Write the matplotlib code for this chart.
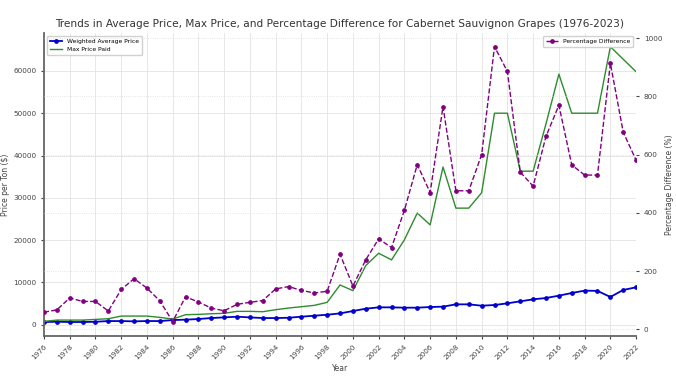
import numpy as np
import matplotlib.pyplot as plt

years = np.arange(1976, 2023)

avg_price = [640, 710, 640, 640, 700, 870, 870, 800, 870, 870,
             1100, 1200, 1350, 1580, 1740, 1900, 1740, 1580, 1580, 1650,
             1900, 2130, 2370, 2680, 3240, 3790, 4110, 4110, 4030, 4030,
             4190, 4270, 4820, 4820, 4500, 4660, 5060, 5530, 6000, 6320,
             6870, 7500, 8060, 8000, 6560, 8220, 8850]

max_price = [790, 1100, 1100, 1100, 1260, 1420, 2050, 2050, 2050, 1740,
             1340, 2370, 2450, 2600, 2700, 3160, 3160, 3080, 3550, 3950,
             4260, 4580, 5290, 9400, 8060, 13980, 16900, 15330, 20070, 26400,
             23600, 37280, 27560, 27560, 31200, 50000, 50000, 36300, 36300, 47500,
             59240, 50000, 50000, 50000, 65710, 62750, 59790]

pct_diff = [59, 67, 108, 96, 96, 63, 137, 174, 142, 98,
            27, 112, 94, 73, 64, 86, 93, 99, 139, 147,
            134, 125, 131, 258, 149, 239, 311, 281, 409, 566,
            470, 765, 476, 476, 600, 971, 886, 540, 492, 663,
            770, 565, 530, 530, 914, 677, 581]

text_col = '#444444'

fig = plt.figure(figsize=(6.76, 3.79), dpi=100)
ax = fig.add_axes([0.065, 0.114, 0.876, 0.799])
ax2 = ax.twinx()

ax.plot(years, avg_price, color='#0000cc', marker='o', markersize=2.4,
        linewidth=1.3, label='Weighted Average Price')
ax.plot(years, max_price, color='#2e8b2e', linewidth=1.0, label='Max Price Paid')
ax2.plot(years, pct_diff, color='purple', linestyle='--', marker='o',
         markersize=2.4, linewidth=1.0, label='Percentage Difference')

ax.set_xlim(1976, 2022)
ax.set_xticks(np.arange(1976, 2023, 2))
ax.set_yticks(np.arange(0, 60001, 10000))
ax2.set_yticks(np.arange(0, 1001, 200))
ax2.set_ylim(-22, 1018)

ax.grid(True, color='#e3e3e3', linewidth=0.6)
ax2.grid(True, axis='y', color='#dddddd', linewidth=0.6, linestyle=':')
ax.set_axisbelow(True)

for s in ['top', 'right']:
    ax.spines[s].set_visible(False)
for s in ['left', 'bottom']:
    ax.spines[s].set_color('#666666')
    ax.spines[s].set_linewidth(1.3)
for s in ax2.spines.values():
    s.set_visible(False)

ax.tick_params(axis='x', labelsize=5.2, colors=text_col, length=2, rotation=45)
ax.tick_params(axis='y', labelsize=5.2, colors=text_col, length=2)
ax2.tick_params(axis='y', labelsize=5.2, colors=text_col, length=2)
for lbl in ax.get_xticklabels():
    lbl.set_ha('right')
    lbl.set_rotation_mode('anchor')

ax.set_xlabel('Year', fontsize=5.5, color=text_col, labelpad=2)
ax.set_ylabel('Price per Ton ($)', fontsize=5.5, color=text_col, labelpad=2)
ax2.set_ylabel('Percentage Difference (%)', fontsize=5.5, color=text_col, labelpad=2)
ax.set_title('Trends in Average Price, Max Price, and Percentage Difference for Cabernet Sauvignon Grapes (1976-2023)',
             fontsize=7.6, color='#333333', pad=4)

ax.legend(loc='upper left', fontsize=4.3, frameon=True, framealpha=0.9,
          edgecolor='#cccccc', borderpad=0.5)
ax2.legend(loc='upper right', fontsize=4.3, frameon=True, framealpha=0.9,
           edgecolor='#cccccc', borderpad=0.5)

fig.savefig('out.png', dpi=100)
